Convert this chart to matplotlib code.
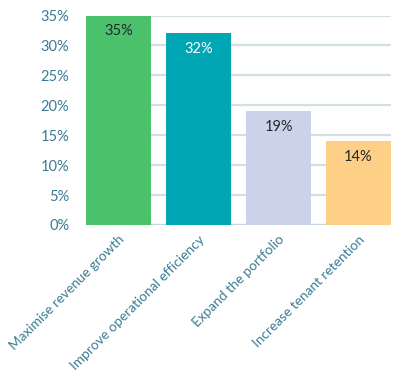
import matplotlib
matplotlib.use("Agg")
import matplotlib.pyplot as plt
from matplotlib.ticker import FuncFormatter

categories = ["Maximise revenue growth", "Improve operational efficiency",
              "Expand the portfolio", "Increase tenant retention"]
values = [35, 32, 19, 14]
colors = ["#4cc16c", "#00a6b4", "#cbd3ea", "#fdcf87"]
label_colors = ["#1f2a2a", "#ffffff", "#1f2a2a", "#1f2a2a"]
yticks = [0, 5, 10, 15, 20, 25, 30, 35]

plt.rcParams['font.family'] = ['Lato', 'DejaVu Sans']
fig = plt.figure(figsize=(4.0, 3.82), dpi=100)
ax = fig.add_axes([86/400, 157/382, 305/400, 209.5/382])

x = list(range(len(categories)))
ax.bar(x, values, width=0.8125, color=colors, zorder=3)
for xi, v, lc in zip(x, values, label_colors):
    ax.text(xi, v - 1.5, f"{v}%", ha="center", va="top", color=lc, fontsize=10.5, zorder=4)

ax.set_xlim(-0.40625, 3.40625)
ax.set_ylim(0, 35)
ax.set_yticks(yticks)
ax.yaxis.set_major_formatter(FuncFormatter(lambda v, p: f"{int(v)}%"))
ax.grid(axis="y", color="#d3dfe5", linewidth=1.6, zorder=0)
ax.set_axisbelow(True)
for s in ax.spines.values():
    s.set_visible(False)
ax.tick_params(axis="both", length=0, colors="#3a7b97")
ax.tick_params(axis="y", pad=12, labelsize=10.5)
ax.set_xticks(x)
ax.set_xticklabels(categories, rotation=45, ha="right", rotation_mode="anchor")
ax.tick_params(axis="x", pad=6, labelsize=9.8)
ax.axhline(0, color="#c7d6dd", linewidth=1.6, zorder=2)

fig.savefig("out.png", dpi=100)
